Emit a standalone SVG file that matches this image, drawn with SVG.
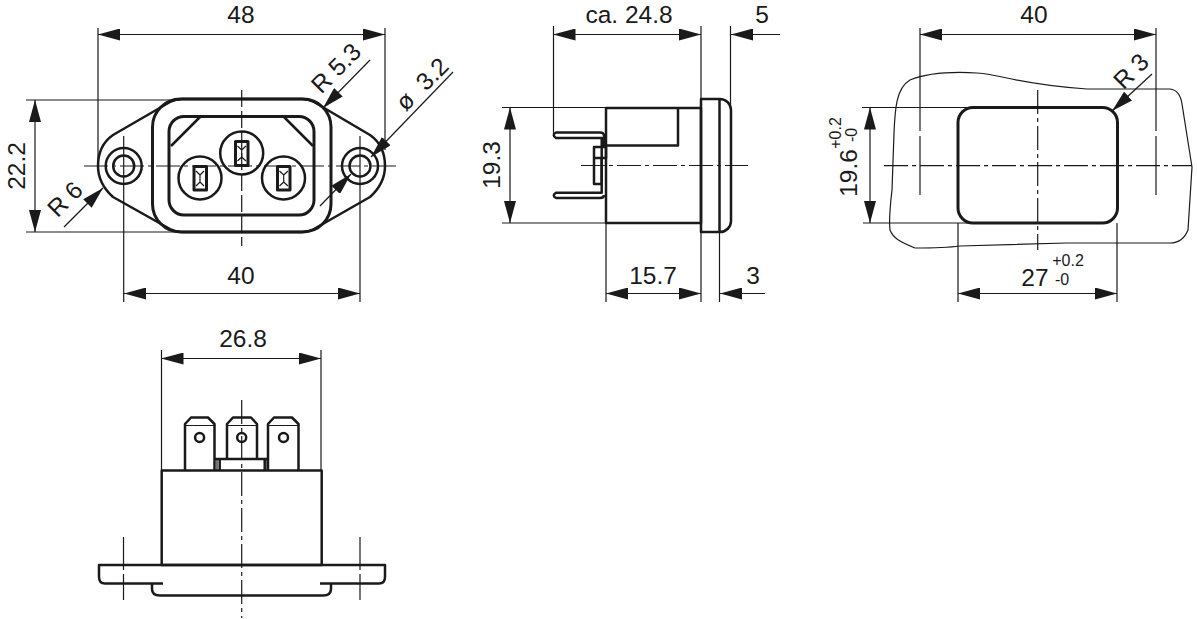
<svg xmlns="http://www.w3.org/2000/svg" width="1198" height="619" viewBox="0 0 1198 619">
<style>
text{font-family:"Liberation Sans",Arial,sans-serif;font-size:24.500px;fill:#1a1a1a;text-anchor:middle}
.s{font-size:16px}
path,line,rect,circle{fill:none;stroke:#1a1a1a;stroke-linejoin:round}
.o{stroke-width:2.500}
.b{stroke-width:3}
.t{stroke-width:1.200}
.c{stroke-width:1.200;stroke-dasharray:24 4 4 4}
.d{stroke-width:1.200;stroke-dasharray:17 4}
.a{stroke-width:1.200;marker-start:url(#ar);marker-end:url(#ar)}
.e{stroke-width:1.200;marker-end:url(#ar)}
.ah{fill:#1a1a1a;stroke:none}
</style>
<defs>
<marker id="ar" markerUnits="userSpaceOnUse" markerWidth="22" markerHeight="12" refX="22" refY="6" orient="auto-start-reverse"><path class="ah" d="M0,0L22,6L0,12Z"/></marker>
</defs>
<rect x="0" y="0" width="1198" height="619" style="fill:#fff;stroke:none"/>
<g id="front-view">
<path class="o" d="M113,135L170,102C174,100 178,99 182,99H302C306,99 310,100 314,102L370,135C380,142 385,152 385,166C385,178 380,188 370,197L314,229C310,231 306,232 302,232H182C178,232 174,231 170,229L113,197C103,188 98,178 98,166C98,152 103,142 113,135Z"/>
<rect class="b" x="152.500" y="99" width="178.500" height="133" rx="28"/>
<rect class="b" x="169" y="116.500" width="145" height="98.500" rx="15"/>
<path class="o" d="M171,146L200,117M284,117L313,146"/>
<circle class="o" cx="123.700" cy="166" r="18"/><circle class="o" cx="123.700" cy="166" r="10.500"/>
<circle class="o" cx="360" cy="166" r="18"/><circle class="o" cx="360" cy="166" r="10.500"/>
<circle class="o" cx="200" cy="178" r="21.500"/><circle class="o" cx="241.700" cy="153" r="21.500"/><circle class="o" cx="283.500" cy="178" r="21.500"/>
<rect class="b" x="194" y="166.500" width="12.500" height="23.500"/>
<rect class="b" x="235.500" y="141.500" width="12.500" height="24"/>
<rect class="b" x="277.500" y="166.500" width="12.500" height="23.500"/>
<path class="t" d="M196,171L200,175L204,171M196,186L200,182L204,186M200,175V182M237.500,146L241.700,150L246,146M237.500,161L241.700,157L246,161M241.700,150V157M279.500,171L283.700,175L288,171M279.500,186L283.700,182L288,186M283.700,175V182"/>
<line class="c" x1="84" y1="166" x2="398" y2="166"/>
<line class="d" x1="241.700" y1="90" x2="241.700" y2="246"/>
</g>
<g id="side-view">
<path class="o" d="M606,108H701V223H606ZM606,145.500H678V108"/>
<path class="o" d="M701,99H720C726,99 731,104 731,110V221C731,227 726,232 720,232H701ZM719.500,99V232"/>
<path class="o" d="M604,146V136Q604,132.500 600,132.500H556Q551.500,135 556,138H601.700V192.700H556Q551.500,195.500 556,198H600Q604,198 604,195"/>
<path class="o" d="M594,147H606V158H594ZM594,158H601.700V184H594Z"/>
<line class="c" x1="581" y1="165.500" x2="748" y2="165.500"/>
</g>
<g id="panel-cutout">
<path class="t" d="M910,80C930,72 960,72 977,73C1005,75 1015,84 1087,89L1170,89C1178,90 1181,97 1182,104L1192,167L1188,230C1184,240 1178,243 1170,243L1067,243L960,246C945,248 930,248 915,248C900,242 893,238 890,230C889,222 890,207 892,190L894,133C895,110 896,88 910,80Z"/>
<rect class="b" x="958" y="107.500" width="159.500" height="115.500" rx="15"/>
<line class="c" x1="884" y1="165.700" x2="1192" y2="165.700"/>
<line class="c" x1="1037.700" y1="90" x2="1037.700" y2="250"/>
<path class="t" d="M920,28V131M920,136V195M1156,28V131M1156,136V195"/>
</g>
<g id="rear-view">
<path class="o" d="M161.700,470.500H321.700V565H161.700Z"/>
<path class="o" d="M163,583.500H105Q99,583.500 99,577V565H385V577Q385,583.500 379,583.500H320"/>
<path class="o" d="M152,584V589Q152,595.500 160,595.500H323Q331,595.500 331,589V584"/>
<path class="o" d="M185,470V424L191,417.500H208L214.500,424V470M227,459V424L233,417.500H251L257,424V459M268,470V424L274,417.500H292L298.500,424V470"/>
<path class="t" d="M185,425.500H214.500M227,425.500H257M268,425.500H298.500"/>
<path class="o" d="M214.500,459H268M219.700,459V470M264.700,459V470"/>
<path class="t" d="M217,459V470M267,459V470"/>
<circle class="o" cx="199.600" cy="437.500" r="4.500"/><circle class="o" cx="241.700" cy="437.500" r="4.500"/><circle class="o" cx="283.500" cy="437.500" r="4.500"/>
<line class="c" x1="241.700" y1="400" x2="241.700" y2="618"/>
<path class="t" d="M123.500,537V570M123.500,574V600M360,537V570M360,574V600"/>
</g>
<g id="connectors">
<path class="t" d="M98,28V166M385,28V150M26,100H180M26,232H180M123.700,136V302M360,136V302"/>
<line class="a" x1="98" y1="34.500" x2="385" y2="34.500"/>
<line class="a" x1="35" y1="100" x2="35" y2="232"/>
<line class="a" x1="124" y1="293.500" x2="360" y2="293.500"/>
<line class="e" x1="370" y1="60" x2="323" y2="108"/>
<line class="e" x1="453" y1="72" x2="371" y2="157"/>
<line class="e" x1="320" y1="206" x2="351" y2="174"/>
<line class="e" x1="64" y1="227" x2="103" y2="188"/>
<path class="t" d="M553.500,26V135M701,26V99M730.500,26V105M502,107.500H606M502,223H606M606,223V302M701,232V302M719.500,232V302"/>
<line class="a" x1="553.500" y1="34.500" x2="701" y2="34.500"/>
<line class="e" x1="780" y1="34.500" x2="731" y2="34.500"/>
<line class="a" x1="510" y1="107.500" x2="510" y2="223"/>
<line class="a" x1="606" y1="293.500" x2="701" y2="293.500"/>
<line class="e" x1="765" y1="293.500" x2="720" y2="293.500"/>
<path class="t" d="M862,107.500H970M863,223H970M958,223V302M1117,223V302"/>
<line class="a" x1="920" y1="34.500" x2="1156" y2="34.500"/>
<line class="a" x1="870" y1="107.500" x2="870" y2="223"/>
<line class="a" x1="958" y1="293.500" x2="1117" y2="293.500"/>
<line class="e" x1="1152" y1="74" x2="1112" y2="111"/>
<path class="t" d="M161.500,350V470M321,350V470"/>
<line class="a" x1="161.500" y1="358.500" x2="321" y2="358.500"/>
</g>
<g id="labels">
<text x="241" y="23">48</text>
<text x="241" y="284">40</text>
<text transform="translate(25,166) rotate(-90)">22.2</text>
<text transform="translate(342,74) rotate(-45)">R 5.3</text>
<text transform="translate(428,90) rotate(-45)">ø&#160;&#160;3.2</text>
<text transform="translate(71,205) rotate(-45)">R 6</text>
<text x="629" y="23">ca. 24.8</text>
<text x="762" y="23">5</text>
<text transform="translate(500,165) rotate(-90)">19.3</text>
<text x="653" y="284">15.7</text>
<text x="753" y="284">3</text>
<text x="1034" y="23">40</text>
<text transform="translate(1137,77) rotate(-45)">R 3</text>
<text transform="translate(857,173) rotate(-90)">19.6</text>
<text class="s" transform="translate(841,133) rotate(-90)">+0.2</text>
<text class="s" transform="translate(857,135) rotate(-90)">-0</text>
<text x="1035" y="286">27</text>
<text class="s" x="1068" y="266">+0.2</text>
<text class="s" x="1062" y="285">-0</text>
<text x="243" y="347">26.8</text>
</g>
</svg>
